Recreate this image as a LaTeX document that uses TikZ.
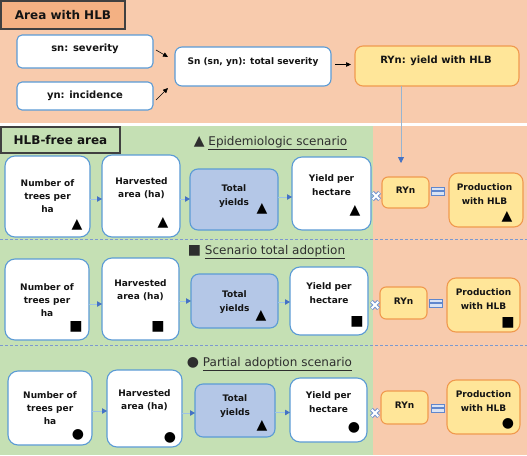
\documentclass[tikz,border=0pt]{standalone}
\usepackage{fontspec}
\setmainfont{DejaVu Sans}
\usetikzlibrary{arrows.meta,calc}
\definecolor{peach}{HTML}{F8CBAD}
\definecolor{titleor}{HTML}{F4B183}
\definecolor{leaf}{HTML}{C5E0B4}
\definecolor{ylw}{HTML}{FFE699}
\definecolor{orng}{HTML}{F09A4E}
\definecolor{bfill}{HTML}{B4C7E7}
\definecolor{bline}{HTML}{5B9BD5}
\definecolor{atip}{HTML}{4472C4}
\definecolor{aline}{HTML}{9DC3E6}
\definecolor{dashcol}{HTML}{7C99CF}
\definecolor{txt}{HTML}{141414}
\definecolor{headcol}{HTML}{2E2E2E}
\definecolor{eqfill}{HTML}{DAE3F3}
\begin{document}
\begin{tikzpicture}[x=1pt,y=-1pt,
  wbox/.style={draw=bline, fill=white, line width=1.1pt, rounded corners=10pt, inner sep=0pt, outer sep=0pt},
  tbox/.style={draw=bline, fill=white, line width=1.1pt, rounded corners=5pt, inner sep=0pt, outer sep=0pt},
  bluebox/.style={draw=bline, fill=bfill, line width=1.1pt, rounded corners=8pt, inner sep=0pt, outer sep=0pt},
  ybox/.style={draw=orng, fill=ylw, line width=1.1pt, rounded corners=9pt, inner sep=0pt, outer sep=0pt},
  rbox/.style={draw=orng, fill=ylw, line width=1.1pt, rounded corners=6pt, inner sep=0pt, outer sep=0pt},
  titlebox/.style={draw=black!75, line width=1.2pt, inner sep=0pt, outer sep=0pt, font=\fontsize{12}{14}\selectfont\bfseries, text=txt},
  bt/.style={font=\fontsize{9}{13.3}\selectfont\bfseries, align=center, text=txt, inner sep=0pt},
  bigt/.style={font=\fontsize{10}{12}\selectfont\bfseries, align=center, text=txt, inner sep=0pt},
  sym/.style={font=\fontsize{14}{14}\selectfont, inner sep=0pt, text=black},
  head/.style={font=\fontsize{12}{14}\selectfont, text=headcol, inner sep=0pt},
  flow/.style={draw=aline, line width=0.8pt, -{Triangle[length=5pt,width=5.5pt,color=atip]}},
  blk/.style={draw=black, line width=0.6pt, -{Triangle[length=5pt,width=4.5pt]}},
  dashln/.style={draw=dashcol, line width=0.9pt, dash pattern=on 3pt off 2pt},
  xmark/.pic={\draw[draw=atip!75, line width=4.2pt] (-3.6,-3.6)--(3.6,3.6) (-3.6,3.6)--(3.6,-3.6);
              \draw[draw=white, line width=2pt] (-3.3,-3.3)--(3.3,3.3) (-3.3,3.3)--(3.3,-3.3);},
  eqmark/.pic={\draw[draw=atip!85, fill=eqfill, line width=0.8pt] (-6.5,-4) rectangle (6.5,-0.8) (-6.5,0.8) rectangle (6.5,4);}
]
\useasboundingbox (0,0) rectangle (527,455);
\fill[white] (0,0) rectangle (527,455);
% backgrounds
\fill[peach] (0,0) rectangle (527,122.5);
\fill[leaf] (0,126) rectangle (373,455);
\fill[peach] (373,126) rectangle (527,455);

% ---------- Area with HLB ----------
\node[titlebox, fill=titleor, minimum width=124pt, minimum height=28pt] (areat) at (63,15) {Area with HLB};
\node[tbox, minimum width=136pt, minimum height=33pt] (sn) at (85,51.5) {};
\node[bigt] (snl) at (85,49) {sn: severity};
\node[tbox, minimum width=136pt, minimum height=28pt] (yn) at (85,96) {};
\node[bigt] (ynl) at (85,96) {yn: incidence};
\node[tbox, rounded corners=7pt, minimum width=156pt, minimum height=39pt] (Sn) at (253,66.5) {};
\node[bt] (Snl) at (253,62) {Sn (sn, yn): total severity};
\node[ybox, rounded corners=8pt, minimum width=164pt, minimum height=40pt] (RYn) at (437,66) {};
\node[bigt] (RYnl) at (436,61) {RYn: yield with HLB};

\draw[blk] ([shift={(3,-1.5)}]sn.east) -- ([shift={(-7,-9.5)}]Sn.west);
\draw[blk] ([shift={(3,4)}]yn.east) -- ([shift={(-7,21.5)}]Sn.west);
\draw[blk, shorten <=4pt, shorten >=4pt] ([yshift=2pt]Sn.east) -- ([yshift=2pt]Sn.east -| RYn.west);

% ---------- HLB-free area ----------
\node[titlebox, fill=leaf, minimum width=119pt, minimum height=26pt] (freet) at (60.5,140) {HLB-free area};

\node[head] (h1) at (270.5,143) {\fontsize{14}{14}\selectfont▲\fontsize{12}{14}\selectfont\ \underline{Epidemiologic scenario}};
\node[head] (h2) at (266.5,252) {\fontsize{14}{14}\selectfont■\fontsize{12}{14}\selectfont\ \underline{Scenario total adoption}};
\node[head] (h3) at (269.5,364) {\fontsize{14}{14}\selectfont●\fontsize{12}{14}\selectfont\ \underline{Partial adoption scenario}};

% dashed separators
\draw[dashln] (0,239) -- (527,239);
\draw[dashln] (0,345) -- (527,345);

% ---------- Row 1 ----------
\node[wbox, minimum width=85pt, minimum height=81pt] (t1) at (47.5,196.5) {};
\node[bt] (t1l) at (47.5,196) {Number of\\trees per\\ha};
\node[wbox, minimum width=78pt, minimum height=82pt] (a1) at (141,196) {};
\node[bt] (a1l) at (141.5,188) {Harvested\\area (ha)};
\node[bluebox, minimum width=88pt, minimum height=61pt] (y1) at (234,199.5) {};
\node[bt] (y1l) at (234,196) {Total\\yields};
\node[wbox, minimum width=79pt, minimum height=73pt] (p1) at (331.5,193.5) {};
\node[bt] (p1l) at (331.5,185) {Yield per\\hectare};
\node[rbox, minimum width=47pt, minimum height=31pt] (r1) at (405.5,192.5) {};
\node[bt] (r1l) at (405.5,190.5) {RYn};
\node[ybox, minimum width=74pt, minimum height=54pt] (q1) at (486,200) {};
\node[bt] (q1l) at (484.5,194) {Production\\with HLB};

\node[sym] (s11) at (77,225) {▲};
\node[sym] (s12) at (163,223) {▲};
\node[sym] (s13) at (262,209) {▲};
\node[sym] (s14) at (355,211) {▲};
\node[sym] (s15) at (507,217) {▲};

\draw[flow] ([yshift=-2.5pt]t1.east) -- ([yshift=-2.5pt]t1.east -| a1.west);
\draw[flow] ([yshift=-3pt]a1.east) -- ([yshift=-3pt]a1.east -| y1.west);
\draw[flow] ([yshift=2.5pt]y1.east) -- ([yshift=2.5pt]y1.east -| p1.west);

% ---------- Row 2 ----------
\node[wbox, minimum width=84pt, minimum height=81pt] (t2) at (47,299.5) {};
\node[bt] (t2l) at (47,300) {Number of\\trees per\\ha};
\node[wbox, minimum width=77pt, minimum height=82pt] (a2) at (140.5,299) {};
\node[bt] (a2l) at (140.5,290) {Harvested\\area (ha)};
\node[bluebox, minimum width=87pt, minimum height=54pt] (y2) at (234.5,301) {};
\node[bt] (y2l) at (234.5,302) {Total\\yields};
\node[wbox, minimum width=78pt, minimum height=68pt] (p2) at (329,301) {};
\node[bt] (p2l) at (329,293) {Yield per\\hectare};
\node[rbox, minimum width=47pt, minimum height=32pt] (r2) at (403.5,303) {};
\node[bt] (r2l) at (403.5,301) {RYn};
\node[ybox, minimum width=73pt, minimum height=54pt] (q2) at (483.5,305) {};
\node[bt] (q2l) at (483.5,299) {Production\\with HLB};

\node[sym] (s21) at (76,327) {■};
\node[sym] (s22) at (158,327) {■};
\node[sym] (s23) at (261,316) {▲};
\node[sym] (s24) at (357,322) {■};
\node[sym] (s25) at (508,323) {■};

\draw[flow] ([yshift=-4.5pt]t2.east) -- ([yshift=-4.5pt]t2.east -| a2.west);
\draw[flow] ([yshift=-2pt]a2.east) -- ([yshift=-2pt]a2.east -| y2.west);
\draw[flow] ([yshift=-1pt]y2.east) -- ([yshift=-1pt]y2.east -| p2.west);

% ---------- Row 3 ----------
\node[wbox, minimum width=84pt, minimum height=74pt] (t3) at (50,408) {};
\node[bt] (t3l) at (50,408) {Number of\\trees per\\ha};
\node[wbox, minimum width=75pt, minimum height=77pt] (a3) at (144.5,408.5) {};
\node[bt] (a3l) at (144.5,400) {Harvested\\area (ha)};
\node[bluebox, minimum width=80pt, minimum height=53pt] (y3) at (235,410.5) {};
\node[bt] (y3l) at (235,406) {Total\\yields};
\node[wbox, minimum width=77pt, minimum height=64pt] (p3) at (328.5,410) {};
\node[bt] (p3l) at (328.5,402) {Yield per\\hectare};
\node[rbox, minimum width=47pt, minimum height=33pt] (r3) at (404.5,407.5) {};
\node[bt] (r3l) at (404.5,405) {RYn};
\node[ybox, minimum width=73pt, minimum height=54pt] (q3) at (483.5,407) {};
\node[bt] (q3l) at (483.5,401) {Production\\with HLB};

\node[sym] (s31) at (78,435) {●};
\node[sym] (s32) at (170,438) {●};
\node[sym] (s33) at (262,426) {▲};
\node[sym] (s34) at (354,428) {●};
\node[sym] (s35) at (508,424) {●};

\draw[flow] ([yshift=-3pt]t3.east) -- ([yshift=-3pt]t3.east -| a3.west);
\draw[flow] ([yshift=-4.5pt]a3.east) -- ([yshift=-4.5pt]a3.east -| y3.west);
\draw[flow] ([yshift=-2pt]y3.east) -- ([yshift=-2pt]y3.east -| p3.west);

% multiplication and equal signs
\pic at (376,196) {xmark};
\pic at (375,305) {xmark};
\pic at (375,413) {xmark};
\pic at (437.5,191) {eqmark};
\pic at (435.5,303) {eqmark};
\pic at (438,408) {eqmark};

% vertical connector from RYn
\coordinate (vend) at (401,163);
\draw[draw=aline!80!gray, line width=0.8pt, -{Triangle[length=6pt,width=6pt,color=atip]}] (RYn.south -| vend) -- (vend);
\end{tikzpicture}
\end{document}
